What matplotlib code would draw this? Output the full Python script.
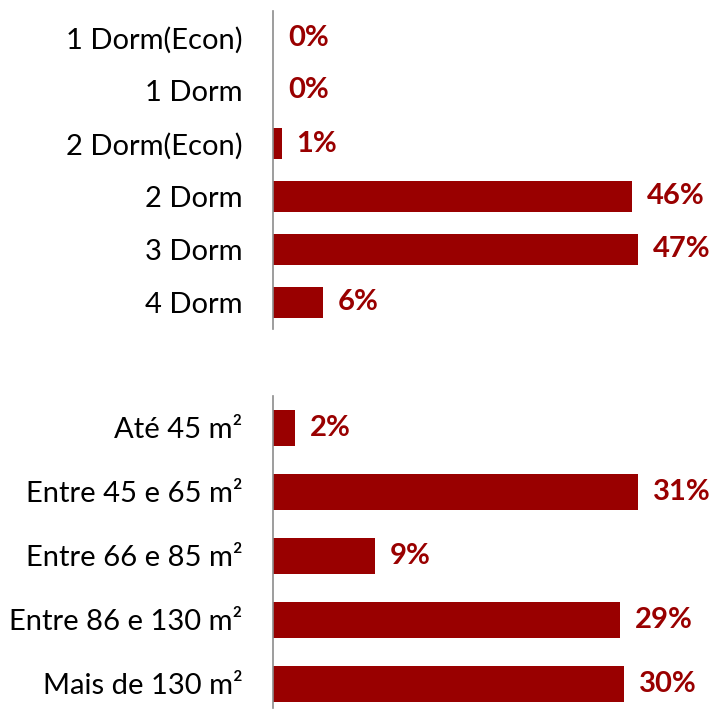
import matplotlib.pyplot as plt

plt.rcParams['font.family'] = ['Lato', 'DejaVu Sans']

dorm_cats = ['1 Dorm(Econ)', '1 Dorm', '2 Dorm(Econ)', '2 Dorm', '3 Dorm', '4 Dorm']
dorm_vals = [0.0, 0.0, 1.1, 46.2, 47.0, 6.4]
dorm_labels = ['0%', '0%', '1%', '46%', '47%', '6%']

area_cats = ['Até 45 m²', 'Entre 45 e 65 m²', 'Entre 66 e 85 m²', 'Entre 86 e 130 m²', 'Mais de 130 m²']
area_vals = [1.9, 31.1, 8.7, 29.5, 29.9]
area_labels = ['2%', '31%', '9%', '29%', '30%']

W, H = 714, 709
red = '#990000'
fig = plt.figure(figsize=(W / 100, H / 100), dpi=100)

def panel(top, bottom, cats, vals, labels, xmax, ymax, hbar):
    ax = fig.add_axes([273 / W, 1 - bottom / H, 1 - 273 / W, (bottom - top) / H])
    y = list(range(len(cats)))
    ax.barh(y, vals, height=hbar, color=red)
    for yi, v, lab in zip(y, vals, labels):
        ax.text(v + xmax * 15 / 441, yi, lab, color=red, fontsize=21,
                fontweight='bold', va='center', ha='left')
    ax.set_yticks(y)
    ax.set_yticklabels(cats, fontsize=21)
    ax.set_xlim(0, xmax)
    ax.set_ylim(ymax, -0.5)
    ax.tick_params(axis='y', length=0, pad=22)
    ax.set_xticks([])
    for s in ['top', 'right', 'bottom']:
        ax.spines[s].set_visible(False)
    ax.spines['left'].set_color('#8c8c8c')
    ax.spines['left'].set_linewidth(1.2)
    return ax

panel(11, 329, dorm_cats, dorm_vals, dorm_labels, 441 / 7.77, 5.5, 0.57)
panel(396, 708, area_cats, area_vals, area_labels, 441 / 11.75, 4.375, 0.56)

fig.savefig('out.png', dpi=100)
